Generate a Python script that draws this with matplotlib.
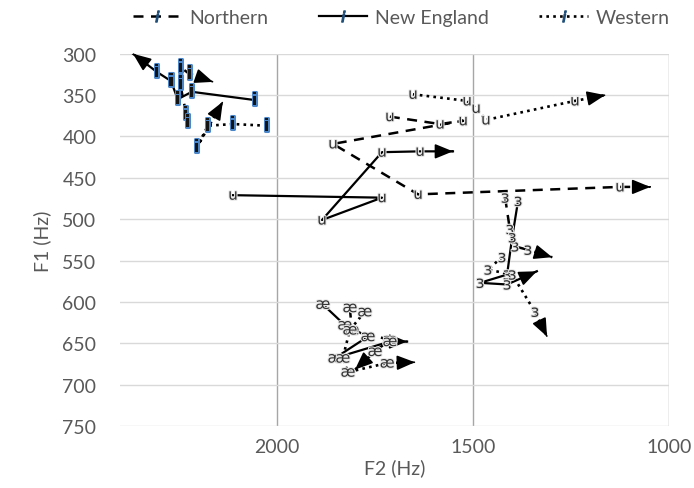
import matplotlib
matplotlib.use("Agg")
import matplotlib.pyplot as plt
import matplotlib.patheffects as pe
from matplotlib.lines import Line2D

plt.rcParams['font.family'] = ['Lato', 'DejaVu Sans']

# F2 / F1 trajectories (Hz), one list pair per dialect and vowel
northern_i_f2 = [2232, 2227, 2247, 2247, 2224, 2163]
northern_i_f1 = [373, 383, 336, 316, 324, 334]
newengland_i_f2 = [2056, 2217, 2253, 2270, 2306, 2367]
newengland_i_f1 = [356, 346, 355, 333, 322, 300]
western_i_f2 = [2026, 2112, 2176, 2204, 2138]
western_i_f1 = [387, 385, 387, 413, 358]

northern_u_f2 = [1712, 1584, 1525, 1857, 1640, 1125, 1048]
northern_u_f1 = [376, 385, 381, 409, 470, 461, 461]
newengland_u_f2 = [2112, 1732, 1885, 1732, 1635, 1551]
newengland_u_f1 = [471, 474, 501, 419, 418, 418]
western_u_f2 = [1653, 1515, 1492, 1467, 1240, 1163]
western_u_f1 = [349, 357, 366, 380, 357, 350]

northern_er_f2 = [1418, 1406, 1393, 1360, 1298]
northern_er_f1 = [474, 512, 533, 537, 546]
newengland_er_f2 = [1385, 1400, 1413, 1482, 1413, 1337]
newengland_er_f1 = [478, 522, 567, 577, 579, 563]
western_er_f2 = [1426, 1462, 1400, 1342, 1311]
western_er_f1 = [546, 561, 567, 612, 642]

northern_ae_f2 = [1814, 1809, 1712, 1750, 1801]
northern_ae_f1 = [607, 634, 646, 660, 682]
newengland_ae_f2 = [1883, 1827, 1768, 1852, 1712, 1668]
newengland_ae_f1 = [603, 628, 642, 668, 648, 648]
western_ae_f2 = [1776, 1814, 1832, 1819, 1719, 1648]
western_ae_f1 = [612, 634, 668, 685, 674, 673]

dialects = ['Northern', 'New England', 'Western']
styles = {'Northern': (0, (4, 3)), 'New England': '-', 'Western': (0, (1, 1.6))}
widths = {'Northern': 1.8, 'New England': 1.6, 'Western': 1.9}

tracks = [
    ('Northern', 'i', northern_i_f2, northern_i_f1),
    ('New England', 'i', newengland_i_f2, newengland_i_f1),
    ('Western', 'i', western_i_f2, western_i_f1),
    ('Northern', 'u', northern_u_f2, northern_u_f1),
    ('New England', 'u', newengland_u_f2, newengland_u_f1),
    ('Western', 'u', western_u_f2, western_u_f1),
    ('Northern', 'ɜ', northern_er_f2, northern_er_f1),
    ('New England', 'ɜ', newengland_er_f2, newengland_er_f1),
    ('Western', 'ɜ', western_er_f2, western_er_f1),
    ('Northern', 'æ', northern_ae_f2, northern_ae_f1),
    ('New England', 'æ', newengland_ae_f2, newengland_ae_f1),
    ('Western', 'æ', western_ae_f2, western_ae_f1),
]

fig = plt.figure(figsize=(6.94, 4.89), dpi=100)
ax = fig.add_axes([0.173, 0.127, 0.791, 0.761])

for dialect, vowel, f2, f1 in tracks:
    ax.plot(f2, f1, color='black', ls=styles[dialect], lw=widths[dialect], zorder=3)
    # arrow head on the last segment
    x0, y0 = f2[-2], f1[-2]
    x1, y1 = f2[-1], f1[-1]
    ax.annotate('', xy=(x1, y1), xytext=(x1 - 0.02 * (x1 - x0), y1 - 0.02 * (y1 - y0)),
                arrowprops=dict(arrowstyle='-|>,head_length=1.1,head_width=0.45',
                                color='black', lw=1.2, shrinkA=0, shrinkB=0),
                zorder=4)
    for x, y in zip(f2[:-1], f1[:-1]):
        if vowel == 'i':
            ax.text(x, y, 'i', ha='center', va='center', fontsize=12.5, fontweight='bold',
                    color='#141414', family='DejaVu Sans', zorder=5,
                    path_effects=[pe.withStroke(linewidth=2.2, foreground='#4a86c8')])
        else:
            ax.text(x, y, vowel, ha='center', va='center',
                    fontsize=12 if vowel == 'ɜ' else 11,
                    color='#333333', family='DejaVu Sans', zorder=5,
                    path_effects=[pe.withStroke(linewidth=1.5, foreground='#e8e8e8')])

ax.set_xlim(2400, 1000)
ax.set_ylim(750, 300)
ax.set_xticks([2000, 1500, 1000])
ax.set_yticks(range(300, 751, 50))
ax.grid(axis='y', color='#d9d9d9', lw=1)
ax.grid(axis='x', color='#a6a6a6', lw=1)
ax.set_axisbelow(True)
for s in ax.spines.values():
    s.set_visible(False)
ax.tick_params(length=0, labelsize=14, colors='#595959')
ax.tick_params(axis='x', pad=9)
ax.tick_params(axis='y', pad=17)
ax.set_xlabel('F2 (Hz)', fontsize=14, color='#595959', labelpad=2)
ax.set_ylabel('F1 (Hz)', fontsize=14, color='#595959', labelpad=8)

handles = [Line2D([0], [0], color='black', ls=styles[d], lw=widths[d], marker='$i$',
                  markersize=8, markeredgecolor='#1f4e79', markerfacecolor='#1f4e79')
           for d in dialects]
fig.legend(handles, dialects, loc='center', bbox_to_anchor=(0.578, 0.963), ncol=3,
           frameon=False, fontsize=14, handlelength=2.5, columnspacing=2.6,
           handletextpad=0.4, labelcolor='#595959')

fig.savefig('out.png', dpi=100)
